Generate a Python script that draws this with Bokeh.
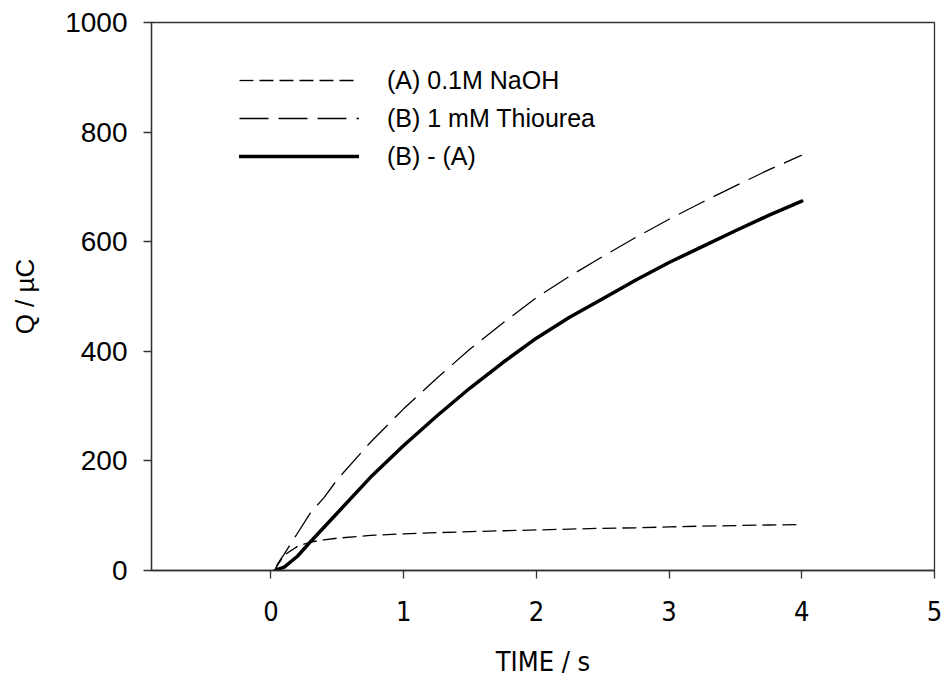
from bokeh.plotting import figure
from bokeh.models import Range1d, FixedTicker, Legend, LegendItem
from bokeh.embed import file_html
from bokeh.resources import INLINE

# ---- data ----
t = [0.03, 0.05, 0.1, 0.2, 0.3, 0.4, 0.5, 0.75, 1.0, 1.25, 1.5, 1.75,
     2.0, 2.25, 2.5, 2.75, 3.0, 3.25, 3.5, 3.75, 4.0]
q_naoh = [0, 10, 28, 44, 52, 56, 59, 64, 67, 69, 71, 72.5,
          74, 75.5, 77, 78, 79.5, 81, 82, 83, 84]
q_thiourea = [0, 12, 30, 68, 106, 133, 166, 234, 295, 351, 404, 452,
              498, 537, 573, 608, 641, 672, 702, 731, 758]
q_diff = [0, 2, 6, 26, 53, 79, 105, 170, 228, 282, 333, 380,
          424, 462, 496, 530, 562, 591, 620, 648, 674]
x_ticks = [0, 1, 2, 3, 4, 5]
y_ticks = [0, 200, 400, 600, 800, 1000]
labels = ["(A) 0.1M NaOH", "(B) 1 mM Thiourea", "(B) - (A)"]

AX = "#333333"
FONT = "'Liberation Sans', Arial, sans-serif"
NARROW = "'Liberation Sans Narrow', 'DejaVu Sans Condensed', 'Roboto Condensed', 'Liberation Sans', sans-serif"

p = figure(width=946, height=684, x_range=Range1d(-0.9, 5), y_range=Range1d(0, 1000),
           output_backend="svg", toolbar_location=None,
           min_border_left=151, min_border_right=12, min_border_top=22, min_border_bottom=114)

p.xgrid.visible = False
p.ygrid.visible = False
p.outline_line_color = AX
p.outline_line_width = 1.3
p.background_fill_color = "white"
p.border_fill_color = "white"

r1 = p.line(t, q_naoh, line_color="black", line_width=1.3, line_dash="14 6")
r2 = p.line(t, q_thiourea, line_color="black", line_width=1.3, line_dash="29 10")
r3 = p.line(t, q_diff, line_color="black", line_width=3.5, line_cap="round")

for ax in (p.xaxis[0], p.yaxis[0]):
    ax.axis_line_color = AX
    ax.axis_line_width = 1.3
    ax.major_tick_line_color = AX
    ax.major_tick_line_width = 1.3
    ax.major_tick_out = 8
    ax.major_tick_in = 0
    ax.minor_tick_line_color = None
    ax.major_label_text_color = "black"
    ax.axis_label_text_color = "black"
    ax.axis_label_text_font_style = "normal"

p.xaxis.ticker = FixedTicker(ticks=x_ticks)
p.yaxis.ticker = FixedTicker(ticks=y_ticks)

p.xaxis.axis_label = "TIME / s"
p.xaxis.major_label_text_font = NARROW
p.xaxis.major_label_text_font_size = "27px"
p.xaxis.axis_label_text_font = NARROW
p.xaxis.axis_label_text_font_size = "27px"
p.xaxis.major_label_standoff = 22
p.xaxis.axis_label_standoff = 22

p.yaxis.axis_label = "Q / µC"
p.yaxis.major_label_text_font = FONT
p.yaxis.major_label_text_font_size = "28px"
p.yaxis.axis_label_text_font = FONT
p.yaxis.axis_label_text_font_size = "26px"
p.yaxis.major_label_standoff = 16
p.yaxis.axis_label_standoff = 22

legend = Legend(items=[LegendItem(label=labels[0], renderers=[r1]),
                       LegendItem(label=labels[1], renderers=[r2]),
                       LegendItem(label=labels[2], renderers=[r3])],
                location=(88, 395), padding=0, margin=0, spacing=0,
                glyph_width=120, glyph_height=38, label_height=38,
                label_standoff=28, border_line_alpha=0, background_fill_alpha=0,
                label_text_font=FONT, label_text_font_size="25px",
                label_text_color="black")
p.add_layout(legend, "center")

open("out.html", "w").write(file_html(p, INLINE))
